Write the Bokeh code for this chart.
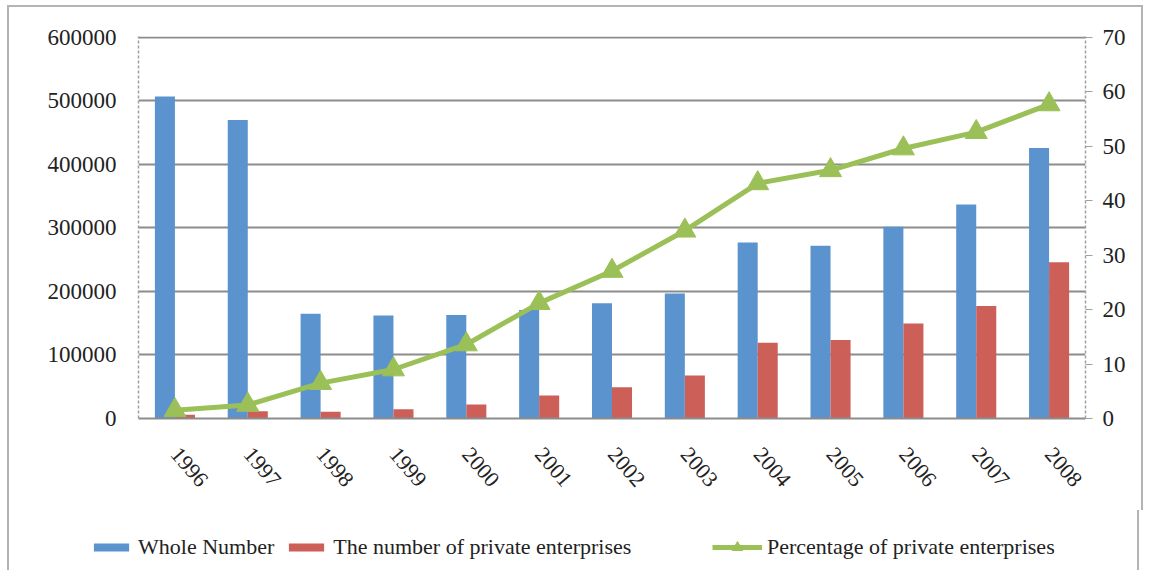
from bokeh.plotting import figure
from bokeh.models import (FactorRange, Range1d, LinearAxis, FixedTicker, Legend,
                          LegendItem, ColumnDataSource, NumeralTickFormatter)
from bokeh.transform import dodge
from bokeh.embed import file_html
from bokeh.resources import INLINE

years = ["1996", "1997", "1998", "1999", "2000", "2001", "2002",
         "2003", "2004", "2005", "2006", "2007", "2008"]
whole_number = [507000, 470000, 165000, 162000, 163000, 171000, 181600,
                197000, 277000, 272000, 302000, 337000, 426000]
private_number = [6000, 11500, 10700, 14600, 22100, 36200, 49200,
                  67600, 119400, 123800, 149700, 177100, 245900]
private_percent = [1.5, 2.5, 6.5, 9.0, 13.6, 21.2, 27.1,
                   34.5, 43.2, 45.6, 49.6, 52.6, 57.7]
left_ticks = [0, 100000, 200000, 300000, 400000, 500000, 600000]
right_ticks = [0, 10, 20, 30, 40, 50, 60, 70]

BLUE = "#5B93CE"
RED = "#CC5F58"
GREEN = "#9BC058"
GRID = "#8C8C8C"
FONT = "Liberation Serif"
TXT = "#222222"
BORDER = "2px solid #B4B4B4"

src = ColumnDataSource(dict(year=years, whole=whole_number,
                            private=private_number, pct=private_percent))

# a hair of headroom so the 600000 gridline is not clipped at the frame edge
top_left = 601500
top_right = 70 * top_left / 600000

p = figure(x_range=FactorRange(*years, range_padding=0),
           y_range=Range1d(0, top_left),
           frame_width=947, frame_height=382,
           min_border_left=129, min_border_right=56,
           min_border_top=29, min_border_bottom=92,
           output_backend="svg", toolbar_location=None,
           background_fill_color="white", border_fill_color="white")
p.outline_line_color = None
p.extra_y_ranges = {"pct": Range1d(0, top_right)}
p.styles = {"margin-left": "7px", "margin-top": "5px",
            "border-left": BORDER, "border-right": BORDER,
            "border-top": BORDER}

bw = 0.275
p.vbar(x=dodge("year", -bw / 2, range=p.x_range), top="whole",
       width=bw, source=src, fill_color=BLUE, line_color=None)
p.vbar(x=dodge("year", bw / 2, range=p.x_range), top="private",
       width=bw, source=src, fill_color=RED, line_color=None)
p.line(x="year", y="pct", source=src, y_range_name="pct",
       line_color=GREEN, line_width=5)
p.scatter(x="year", y="pct", source=src, y_range_name="pct",
          marker="triangle", size=22, fill_color=GREEN, line_color=GREEN)

# left axis
ya = p.yaxis[0]
ya.ticker = FixedTicker(ticks=left_ticks)
ya.formatter = NumeralTickFormatter(format="0")
ya.axis_line_color = "#A0A0A0"
ya.axis_line_dash = "3 2"
ya.axis_line_width = 1.5
ya.major_tick_out = 0
ya.major_tick_in = 0
ya.minor_tick_out = 0
ya.minor_tick_in = 0
ya.major_label_standoff = 22
ya.major_label_text_font = FONT
ya.major_label_text_font_size = "23px"
ya.major_label_text_color = TXT

# right axis
ra = LinearAxis(y_range_name="pct", ticker=FixedTicker(ticks=right_ticks))
ra.axis_line_color = "#A0A0A0"
ra.axis_line_dash = "3 2"
ra.axis_line_width = 1.5
ra.major_tick_out = 7
ra.major_tick_in = 0
ra.major_tick_line_color = "#A0A0A0"
ra.minor_tick_out = 0
ra.minor_tick_in = 0
ra.major_label_standoff = 10
ra.major_label_text_font = FONT
ra.major_label_text_font_size = "23px"
ra.major_label_text_color = TXT
p.add_layout(ra, "right")

# x axis
xa = p.xaxis[0]
xa.axis_line_color = GRID
xa.axis_line_width = 2
xa.major_tick_out = 0
xa.major_tick_in = 0
xa.major_label_orientation = -0.86
xa.major_label_standoff = 32
xa.major_label_text_font = FONT
xa.major_label_text_font_size = "22px"
xa.major_label_text_color = TXT

p.xgrid.grid_line_color = None
p.ygrid.ticker = FixedTicker(ticks=left_ticks)
p.ygrid.grid_line_color = GRID
p.ygrid.grid_line_width = 2

# legend strip: hidden renderers carry the legend styling
lf = figure(x_range=FactorRange(*years), y_range=Range1d(0, 1),
            width=1132, height=60, min_border=0,
            x_axis_location=None, y_axis_location=None,
            output_backend="svg", toolbar_location=None,
            background_fill_color="white", border_fill_color="white")
lf.outline_line_color = None
lf.grid.visible = False
lf.styles = {"margin-left": "7px", "border-left": BORDER,
             "border-right": BORDER}
lw = lf.vbar(x="year", top="whole", width=0.3, source=src,
             fill_color=BLUE, line_color=None, visible=False)
lp = lf.vbar(x="year", top="private", width=0.3, source=src,
             fill_color=RED, line_color=None, visible=False)
ll = lf.line(x="year", y="pct", source=src, line_color=GREEN,
             line_width=5, visible=False)
lt = lf.scatter(x="year", y="pct", source=src, marker="triangle",
                fill_color=GREEN, line_color=GREEN, visible=False)

leg1 = Legend(items=[LegendItem(label="Whole Number", renderers=[lw]),
                     LegendItem(label="The number of private enterprises",
                                renderers=[lp])],
              orientation="horizontal", location=(80, 10),
              glyph_width=44, glyph_height=10, label_standoff=5, spacing=10,
              padding=0, margin=0, border_line_color=None,
              background_fill_alpha=0, label_text_font=FONT,
              label_text_font_size="22px", label_text_color=TXT)
leg2 = Legend(items=[LegendItem(label="Percentage of private enterprises",
                                renderers=[ll, lt])],
              orientation="horizontal", location=(703, 10),
              glyph_width=50, glyph_height=26, label_standoff=5,
              padding=0, margin=0, border_line_color=None,
              background_fill_alpha=0, label_text_font=FONT,
              label_text_font_size="22px", label_text_color=TXT)
lf.add_layout(leg1, "center")
lf.add_layout(leg2, "center")

open("out.html", "w").write(file_html([p, lf], INLINE))
